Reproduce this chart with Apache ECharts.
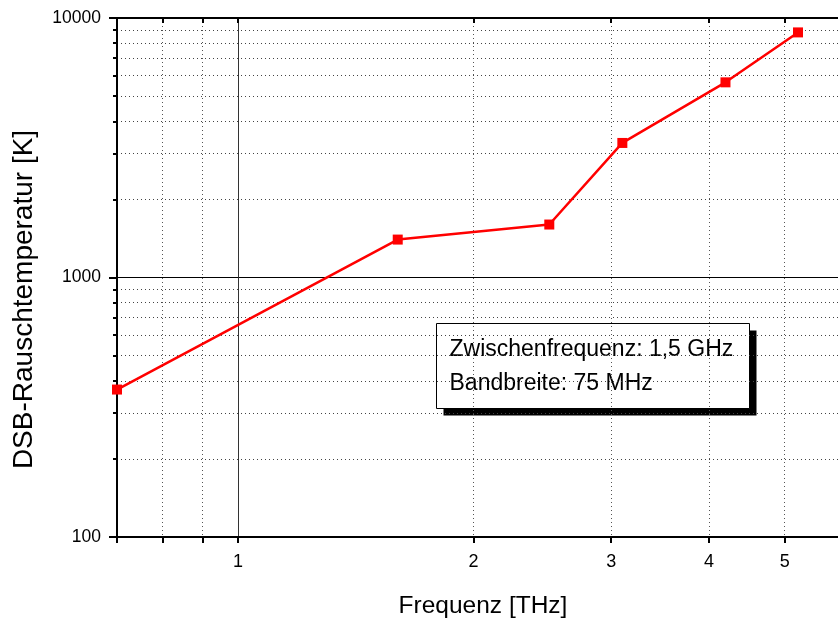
<!DOCTYPE html>
<html>
<head>
<meta charset="utf-8">
<script src="https://cdn.jsdelivr.net/npm/echarts@6/dist/echarts.min.js"></script>
<style>html,body{margin:0;padding:0;background:#fff}#c{width:838px;height:621px}</style>
</head>
<body>
<div id="c"></div>
<script>
// Data (frequency in THz, DSB noise temperature in K)
const freq = [0.7, 1.6, 2.5, 3.1, 4.2, 5.2];
const temp = [370, 1400, 1600, 3300, 5650, 8800];
// Axis ticks
const xLabelTicks = [1, 2, 3, 4, 5];
const xAllTicks = [0.7, 0.8, 0.9, 1, 2, 3, 4, 5];
const xDotTicks = [0.8, 0.9, 2, 3, 4, 5];
const xSolidTicks = [1];
const yLabelTicks = [100, 1000, 10000];
const yMinorTicks = [200, 300, 400, 500, 600, 700, 800, 900, 2000, 3000, 4000, 5000, 6000, 7000, 8000, 9000];
const legendLines = ['Zwischenfrequenz: 1,5 GHz', 'Bandbreite: 75 MHz'];

const FONT = 'Liberation Sans, Arial, sans-serif';
const xMin = 0.7, xMax = 5.85, yMin = 100, yMax = 10000;

const chart = echarts.init(document.getElementById('c'), null, {renderer: 'canvas'});

function hiddenX(extra) {
  return Object.assign({
    type: 'log', logBase: 10, min: xMin, max: xMax, gridIndex: 0,
    axisLine: {show: false}, axisLabel: {show: false}, axisTick: {show: false},
    splitLine: {show: false}
  }, extra);
}

const option = {
  animation: false,
  backgroundColor: '#fff',
  grid: {left: 117, top: 18, right: 0, bottom: 84, containLabel: false, outerBoundsMode: 'none'},
  xAxis: [
    {
      type: 'log', logBase: 10, min: xMin, max: xMax, position: 'bottom',
      name: 'Frequenz [THz]', nameLocation: 'middle', nameGap: 57,
      nameTextStyle: {fontFamily: FONT, fontSize: 24.5, color: '#000', padding: [0, 0, 0, 11]},
      axisLine: {show: true, onZero: false, lineStyle: {color: '#000', width: 2}},
      axisTick: {show: true, inside: false, length: 6, customValues: xAllTicks, lineStyle: {color: '#000', width: 2}},
      axisLabel: {show: true, margin: 16, fontFamily: FONT, fontSize: 18, color: '#000',
        customValues: xLabelTicks, formatter: v => String(v)},
      splitLine: {show: false}
    },
    hiddenX({position: 'top', axisLine: {show: true, onZero: false, lineStyle: {color: '#000', width: 2}},
      axisTick: {show: true, inside: true, length: 5, customValues: xAllTicks.slice(1), lineStyle: {color: '#000', width: 2}}}),
    hiddenX({position: 'bottom', axisTick: {show: false, customValues: xSolidTicks},
      splitLine: {show: true, lineStyle: {color: '#333', width: 1, type: 'solid'}}}),
    hiddenX({position: 'bottom', axisTick: {show: false, customValues: xDotTicks},
      splitLine: {show: true, lineStyle: {color: '#555', width: 1, type: [1, 3]}}})
  ],
  yAxis: [
    {
      type: 'log', logBase: 10, min: yMin, max: yMax, position: 'left',
      name: 'DSB-Rauschtemperatur [K]', nameLocation: 'middle', nameGap: 79, nameRotate: 90,
      nameTextStyle: {fontFamily: FONT, fontSize: 28, color: '#000', padding: [0, 44, 0, 0]},
      axisLine: {show: true, onZero: false, lineStyle: {color: '#000', width: 2}},
      axisTick: {show: true, inside: false, length: 8, customValues: yLabelTicks, lineStyle: {color: '#000', width: 2}},
      axisLabel: {show: true, margin: 16, fontFamily: FONT, fontSize: 17.5, color: '#000',
        customValues: yLabelTicks, formatter: v => String(v)},
      splitLine: {show: true, lineStyle: {color: '#000', width: 1.2}}
    },
    {
      type: 'log', logBase: 10, min: yMin, max: yMax, position: 'left',
      axisLine: {show: false}, axisLabel: {show: false},
      axisTick: {show: true, inside: false, length: 4, customValues: yMinorTicks, lineStyle: {color: '#000', width: 2}},
      splitLine: {show: true, lineStyle: {color: '#444', width: 1, type: [1, 3]}}
    }
  ],
  series: [{
    type: 'line',
    xAxisIndex: 0, yAxisIndex: 0,
    data: freq.map((f, i) => [f, temp[i]]),
    symbol: 'rect', symbolSize: 10,
    lineStyle: {color: '#ff0000', width: 2.5},
    itemStyle: {color: '#ff0000'},
    z: 5
  }],
  graphic: [{
    type: 'group', left: 436, top: 323, z: 10,
    children: [
      {type: 'rect', shape: {x: 7, y: 7, width: 313, height: 85}, style: {fill: '#000'}},
      {type: 'rect', shape: {x: 0, y: 0, width: 313, height: 85}, style: {fill: '#fff', stroke: '#000', lineWidth: 1}},
      {type: 'text', x: 13, y: 9, style: {text: legendLines.join('\n'), font: '23px ' + FONT, fill: '#000', lineHeight: 34}}
    ]
  }]
};
chart.setOption(option);
</script>
</body>
</html>
